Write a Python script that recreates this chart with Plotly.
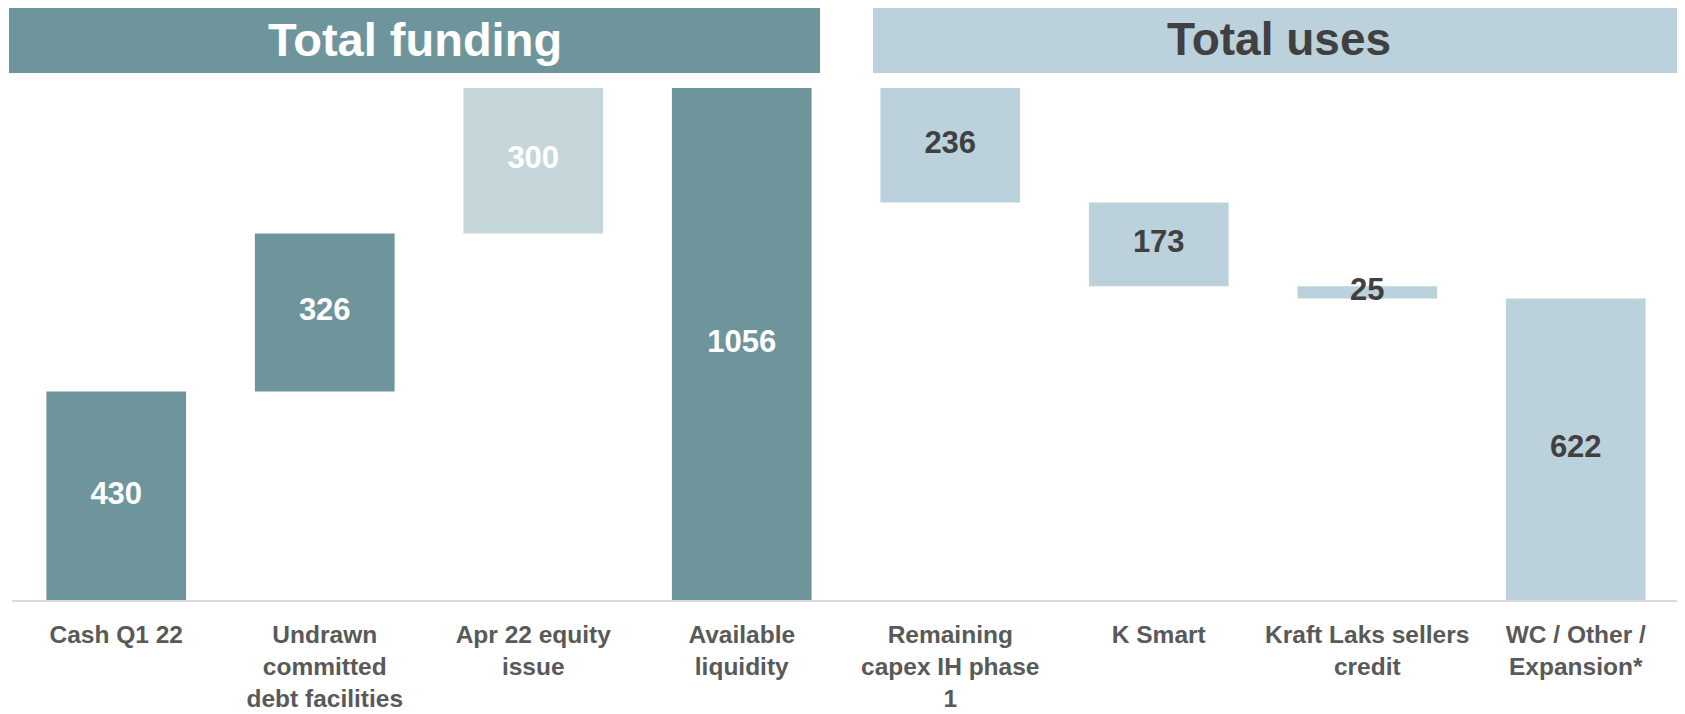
import plotly.graph_objects as go

categories = ["Cash Q1 22", "Undrawn<br>committed<br>debt facilities", "Apr 22 equity<br>issue",
              "Available<br>liquidity", "Remaining<br>capex IH phase<br>1", "K Smart",
              "Kraft Laks sellers<br>credit", "WC / Other /<br>Expansion*"]
values = [430, 326, 300, 1056, 236, 173, 25, 622]
kinds = ["add", "add", "add", "total", "sub", "sub", "sub", "total"]
bar_colors = ["#6E959B", "#6E959B", "#C6D7DB", "#6E959B", "#BBD1DC", "#BBD1DC", "#BBD1DC", "#BBD1DC"]
label_colors = ["white", "white", "white", "white", "#404040", "#404040", "#404040", "#404040"]
headers = ["Total funding", "Total uses"]

# floating-bar bases from the running total
bases = []
running = 0
for v, k in zip(values, kinds):
    if k == "add":
        bases.append(running)
        running += v
    elif k == "sub":
        running -= v
        bases.append(running)
    else:
        bases.append(0)
        running = v
mids = [b + v / 2 for b, v in zip(bases, values)]

OFF = 8  # page body margin
W, H = 1685 - OFF, 714 - OFF
ml, mr, mt, mb = 12 - OFF, 5, 88 - OFF, 714 - 600

fig = go.Figure()
fig.add_trace(go.Bar(x=categories, y=values, base=bases, width=0.67,
                     marker=dict(color=bar_colors, line=dict(width=0)),
                     hoverinfo="skip"))
fig.add_trace(go.Scatter(x=categories, y=mids, mode="text", text=[str(v) for v in values],
                         textfont=dict(family="Liberation Sans", size=31, color=label_colors,
                                       weight="bold"),
                         hoverinfo="skip", cliponaxis=False))

plot_w = W - ml - mr
plot_h = H - mt - mb
def px_x(p):
    return (p - OFF - ml) / plot_w
def px_y(p):
    return (OFF + H - mb - p) / plot_h

hdr = [(9, 820, "#6E959B", "white", 47), (873, 1700, "#BBD1DC", "#404040", 46)]
for (x0, x1, fc, tc, fs), t in zip(hdr, headers):
    fig.add_shape(type="rect", xref="paper", yref="paper", x0=px_x(x0), x1=px_x(x1),
                  y0=px_y(73), y1=px_y(5), fillcolor=fc, line=dict(width=0), layer="below")
    fig.add_annotation(xref="paper", yref="paper", x=(px_x(x0) + px_x(min(x1, 1685))) / 2,
                       y=(px_y(73) + px_y(5)) / 2, text="<b>%s</b>" % t, showarrow=False,
                       font=dict(family="Liberation Sans", size=fs, color=tc),
                       xanchor="center", yanchor="middle")

fig.update_layout(
    width=W, height=H, margin=dict(l=ml, r=mr, t=mt, b=mb, autoexpand=False),
    plot_bgcolor="white", paper_bgcolor="white", showlegend=False,
    xaxis=dict(type="category", showline=True, linecolor="#D9D9D9", linewidth=2,
               ticks="", showgrid=False, ticklabelstandoff=12, automargin=False,
               tickfont=dict(family="Liberation Sans", size=24.5, color="#595959", weight="bold")),
    yaxis=dict(range=[0, 1056], visible=False, showgrid=False, zeroline=False, automargin=False),
)
fig.write_html("out.html")
